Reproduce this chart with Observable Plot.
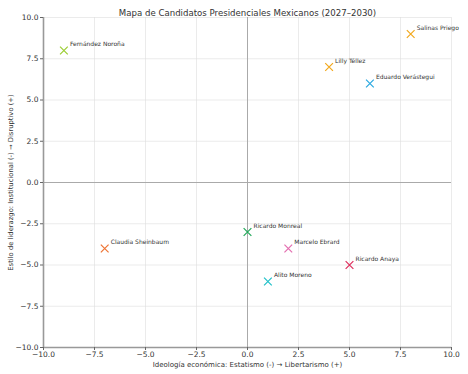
<!DOCTYPE html>
<html><head><meta charset="utf-8">
<script src="https://cdn.jsdelivr.net/npm/d3@7"></script>
<script src="https://cdn.jsdelivr.net/npm/@observablehq/plot@0.6"></script>
<style>body{margin:0;background:#fff;} svg{font-family:"DejaVu Sans",sans-serif;}</style>
</head><body><div id="chart"></div>
<script>
const names = ["Fernández Noroña","Salinas Priego","Lilly Téllez","Eduardo Verástegui","Claudia Sheinbaum","Ricardo Monreal","Marcelo Ebrard","Ricardo Anaya","Alito Moreno"];
const economia = [-9, 8, 4, 6, -7, 0, 2, 5, 1];
const liderazgo = [8, 9, 7, 6, -4, -3, -4, -5, -6];
const colores = ["#9acd32","#f2a81d","#f2a81d","#29a8e0","#ee7433","#22a85a","#e36fb0","#dd2e5c","#1fc0c8"];
const ticks = [-10,-7.5,-5,-2.5,0,2.5,5,7.5,10];
const title = "Mapa de Candidatos Presidenciales Mexicanos (2027–2030)";
const xLabel = "Ideología económica: Estatismo (-) → Libertarismo (+)";
const yLabel = "Estilo de liderazgo: Institucional (-) → Disruptivo (+)";

const data = names.map((n,i)=>({name:n, x:economia[i], y:liderazgo[i], c:colores[i]}));
const fmt = d => (d<0?"\u2212":"") + Math.abs(d).toFixed(1);

const chart = Plot.plot({
  width: 468, height: 374,
  marginTop: 17, marginBottom: 27, marginLeft: 43, marginRight: 17,
  style: {fontFamily: "DejaVu Sans, sans-serif", fontSize: "7px", color: "#333"},
  x: {domain: [-10,10], label: null},
  y: {domain: [-10,10], label: null},
  marks: [
    Plot.gridX(ticks, {stroke: "#ddd", strokeOpacity: 1, strokeWidth: 0.6}),
    Plot.gridY(ticks, {stroke: "#ddd", strokeOpacity: 1, strokeWidth: 0.6}),
    Plot.ruleX([0], {stroke: "#aaa", strokeWidth: 1}),
    Plot.ruleY([0], {stroke: "#aaa", strokeWidth: 1}),
    Plot.ruleX([-10], {stroke: "#999", strokeWidth: 1.6}),
    Plot.ruleY([-10], {stroke: "#999", strokeWidth: 1.6}),
    Plot.axisX({ticks, tickFormat: fmt, label: null, tickSize: 3, tickPadding: 1, stroke: "#666", fill: "#333", fontSize: 7.5}),
    Plot.axisY({ticks, tickFormat: fmt, label: null, tickSize: 3, tickPadding: 2, stroke: "#666", fill: "#333", fontSize: 7.5}),
    Plot.dot(data, {x: "x", y: "y", symbol: "times", stroke: "c", r: 3.6, strokeWidth: 1.2}),
    Plot.text(data, {x: "x", y: "y", text: "name", textAnchor: "start", dx: 6, dy: -6, fontSize: 6, fill: "#333"}),
    Plot.text([title], {frameAnchor: "top", dy: -8, fontSize: 8.6, fill: "#333"}),
    Plot.text([xLabel], {frameAnchor: "bottom", lineAnchor: "middle", textAnchor: "middle", dy: 17, fontSize: 7, fill: "#333"}),
    Plot.text([yLabel], {frameAnchor: "left", textAnchor: "middle", lineAnchor: "middle", dx: -33, rotate: -90, fontSize: 6.8, fill: "#333"})
  ]
});
document.getElementById("chart").appendChild(chart);
</script></body></html>
